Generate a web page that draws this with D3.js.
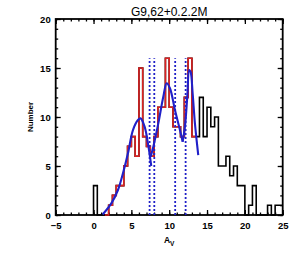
<!DOCTYPE html>
<html>
<head>
<meta charset="utf-8">
<script src="https://cdn.jsdelivr.net/npm/d3@7"></script>
<style>
  body { margin: 0; background: #fff; }
  text { font-family: "Liberation Sans", Arial, sans-serif; }
</style>
</head>
<body>
<div id="chart"></div>
<script>
// histogram of A_V, bins of 0.5 starting at 0
const binStart = 0;
const binWidth = 0.5;
const counts = [3, 0, 0, 0, 1, 2, 3, 3, 5, 7,
                8, 6, 15, 8, 7, 6, 8, 11, 11, 16,
                11, 9, 9, 8, 12, 16, 8, 8, 12, 8,
                11, 9, 10, 5, 5, 6, 4, 5, 3, 3,
                0, 1, 3, 0, 0, 0, 1, 0, 1, 1];
// part of the histogram used for the fit (drawn red)
const fitRange = [1.5, 13.5];

// fitted curves as [A_V, number]
const fit1 = [[1.2, 0.05], [2.35, 1.19], [3.23, 2.55], [3.89, 4.25], [4.55, 6.29], [5.21, 8.67],
              [5.87, 9.69], [6.22, 9.86], [6.75, 9.01], [7.19, 7.31], [7.63, 5.0]];
const fit2 = [[7.55, 5.95], [7.9, 6.97], [8.56, 9.35], [9.22, 12.07], [9.66, 13.44], [10.1, 12.93],
              [10.76, 10.71], [11.42, 8.67], [11.78, 7.48]];
const fit3 = [[11.78, 7.48], [12.08, 9.01], [12.39, 12.07], [12.65, 14.8], [12.83, 14.6],
              [13.1, 12.4], [13.4, 9.35], [13.84, 6.12]];

// dotted dividers
const dividers = [7.41, 8.03, 10.79, 12.17];
const dividerTop = 16;

const xTicks = [-5, 0, 5, 10, 15, 20, 25];
const yTicks = [0, 5, 10, 15, 20];
const title = "G9,62+0.2.2M";

let dimensions = {
  width: 300,
  height: 253,
  margins: { top: 19, bottom: 38, left: 55.7, right: 17.3 }
};
dimensions.containerWidth = dimensions.width - dimensions.margins.left - dimensions.margins.right;
dimensions.containerHeight = dimensions.height - dimensions.margins.top - dimensions.margins.bottom;

const svg = d3.select("#chart")
  .append("svg")
  .attr("width", dimensions.width)
  .attr("height", dimensions.height);

const container = svg.append("g")
  .attr("transform", `translate(${dimensions.margins.left}, ${dimensions.margins.top})`);

const x = d3.scaleLinear().domain([-5, 25]).range([0, dimensions.containerWidth]);
const y = d3.scaleLinear().domain([0, 20]).range([dimensions.containerHeight, 0]);

container.append("clipPath").attr("id", "plotclip")
  .append("rect")
  .attr("width", dimensions.containerWidth)
  .attr("height", dimensions.containerHeight + 1);

// frame
container.append("rect")
  .attr("width", dimensions.containerWidth)
  .attr("height", dimensions.containerHeight)
  .attr("fill", "none")
  .attr("stroke", "#000")
  .attr("stroke-width", 1.8);

// axes, ticks pointing inwards like IDL
const minorX = d3.range(-5, 26, 1);
const minorY = d3.range(0, 21, 1);
function styleAxis(g) {
  g.select(".domain").remove();
  g.selectAll("line").attr("stroke", "#000").attr("stroke-width", 1.3);
}

container.append("g")
  .attr("transform", `translate(0, ${dimensions.containerHeight})`)
  .call(d3.axisBottom(x).tickValues(xTicks).tickSize(-5).tickPadding(7.5))
  .call(styleAxis)
  .selectAll("text")
  .attr("font-size", 9.5).attr("font-weight", "bold").attr("fill", "#000");
container.append("g")
  .attr("transform", `translate(0, ${dimensions.containerHeight})`)
  .call(d3.axisBottom(x).tickValues(minorX).tickSize(-2.5).tickFormat(""))
  .call(styleAxis);
container.append("g")
  .call(d3.axisTop(x).tickValues(xTicks).tickSize(-5).tickFormat(""))
  .call(styleAxis);
container.append("g")
  .call(d3.axisTop(x).tickValues(minorX).tickSize(-2.5).tickFormat(""))
  .call(styleAxis);

container.append("g")
  .call(d3.axisLeft(y).tickValues(yTicks).tickSize(-5).tickPadding(5))
  .call(styleAxis)
  .selectAll("text")
  .attr("font-size", 9.5).attr("font-weight", "bold").attr("fill", "#000");
container.append("g")
  .call(d3.axisLeft(y).tickValues(minorY).tickSize(-2.5).tickFormat(""))
  .call(styleAxis);
container.append("g")
  .attr("transform", `translate(${dimensions.containerWidth}, 0)`)
  .call(d3.axisRight(y).tickValues(yTicks).tickSize(-5).tickFormat(""))
  .call(styleAxis);
container.append("g")
  .attr("transform", `translate(${dimensions.containerWidth}, 0)`)
  .call(d3.axisRight(y).tickValues(minorY).tickSize(-2.5).tickFormat(""))
  .call(styleAxis);

// histogram as a step outline
function stepPoints(list, fromBaseline) {
  const pts = [];
  if (fromBaseline && list.length) pts.push([list[0].x0, 0]);
  list.forEach(d => {
    pts.push([d.x0, d.count]);
    pts.push([d.x1, d.count]);
  });
  return pts;
}
const bins = counts.map((c, i) => ({
  x0: binStart + i * binWidth,
  x1: binStart + (i + 1) * binWidth,
  count: c
}));
const fitBins = bins.filter(d => d.x0 >= fitRange[0] && d.x1 <= fitRange[1]);

const stepLine = d3.line().x(d => x(d[0])).y(d => y(d[1]));
const plot = container.append("g").attr("clip-path", "url(#plotclip)");

plot.append("path")
  .attr("d", stepLine(stepPoints(bins, true)))
  .attr("fill", "none")
  .attr("stroke", "#000")
  .attr("stroke-width", 1.6);

plot.append("path")
  .attr("d", stepLine(stepPoints(fitBins, false)))
  .attr("fill", "none")
  .attr("stroke", "#dd2222")
  .attr("stroke-width", 1.6);

// dotted dividers
plot.selectAll(".divider")
  .data(dividers)
  .join("line")
  .attr("class", "divider")
  .attr("x1", d => x(d)).attr("x2", d => x(d))
  .attr("y1", y(0)).attr("y2", y(dividerTop))
  .attr("stroke", "#2020c8")
  .attr("stroke-width", 1.8)
  .attr("stroke-dasharray", "2,2");

// fitted curves
const curveLine = d3.line().x(d => x(d[0])).y(d => y(d[1])).curve(d3.curveCatmullRom);
plot.selectAll(".fit")
  .data([fit1, fit2, fit3])
  .join("path")
  .attr("class", "fit")
  .attr("d", curveLine)
  .attr("fill", "none")
  .attr("stroke", "#2020c8")
  .attr("stroke-width", 2.1);

// labels
svg.append("text")
  .attr("x", dimensions.margins.left + dimensions.containerWidth / 2)
  .attr("y", 15.7)
  .attr("text-anchor", "middle")
  .attr("font-size", 12)
  .text(title);

svg.append("text")
  .attr("transform", `translate(32.5, ${dimensions.margins.top + dimensions.containerHeight / 2}) rotate(-90)`)
  .attr("text-anchor", "middle")
  .attr("font-size", 8)
  .attr("font-weight", "bold")
  .text("Number");

const xlab = svg.append("text")
  .attr("x", dimensions.margins.left + dimensions.containerWidth / 2)
  .attr("y", 243)
  .attr("text-anchor", "middle")
  .attr("font-size", 8.5)
  .attr("font-weight", "bold");
xlab.append("tspan").text("A");
xlab.append("tspan").attr("dy", 2.5).attr("font-size", 6.5).text("V");
</script>
</body>
</html>
